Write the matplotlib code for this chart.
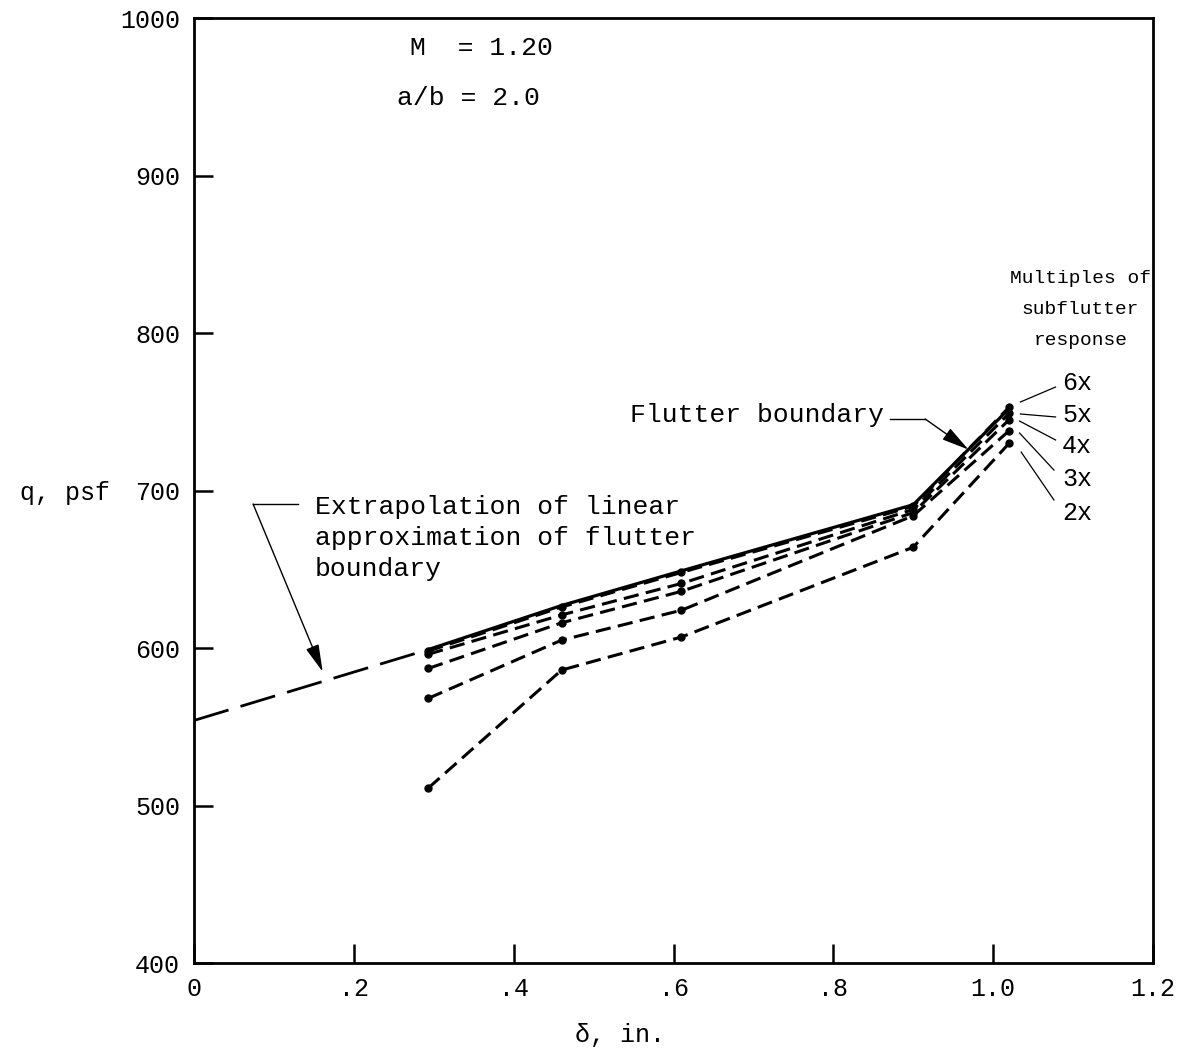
import numpy as np
import matplotlib
matplotlib.use("Agg")
import matplotlib.pyplot as plt

plt.rcParams['font.family'] = ['Liberation Mono', 'DejaVu Sans Mono']

# deflection, in. and dynamic pressure, psf
delta = [0.293, 0.46, 0.61, 0.90, 1.02]
q_2x = [511, 586, 607, 664, 730]
q_3x = [568, 605, 624, 684, 738]
q_4x = [587, 616, 636, 686, 745]
q_5x = [596, 621, 641, 688, 749]
q_6x = [598, 626, 648, 690, 753]
q_boundary = [599, 627, 649, 691, 752]

# linear approximation extended back to zero deflection
delta_extrap = [0.0, 0.293]
q_extrap = [554, 599]

multiples = ["6x", "5x", "4x", "3x", "2x"]
series = [q_6x, q_5x, q_4x, q_3x, q_2x]

xticks = [0, 0.2, 0.4, 0.6, 0.8, 1.0, 1.2]
xticklabels = ["0", ".2", ".4", ".6", ".8", "1.0", "1.2"]
yticks = [400, 500, 600, 700, 800, 900, 1000]

fig = plt.figure(figsize=(11.82, 10.55), dpi=100)
ax = fig.add_axes([0.1641, 0.0872, 0.8114, 0.8957])

ax.plot(delta, q_boundary, color="black", lw=2.3, solid_capstyle="round")
for q in series:
    ax.plot(delta, q, color="black", lw=2.2, dashes=(5, 2.4),
            marker="o", markersize=5)
ax.plot(delta_extrap, q_extrap, color="black", lw=2.0, dashes=(13, 4.5))

ax.set_xlim(0, 1.2)
ax.set_ylim(400, 1000)
ax.set_xticks(xticks)
ax.set_xticklabels(xticklabels)
ax.set_yticks(yticks)
ax.tick_params(direction="in", length=14, width=1.8, labelsize=18, pad=10,
               top=False, right=False)
for side in ax.spines.values():
    side.set_linewidth(2.0)

ax.set_ylabel("q, psf", rotation=0, fontsize=18, ha="center", va="center")
ax.yaxis.set_label_coords(-0.1345, 0.497)
ax.set_xlabel("δ, in.", fontsize=18, ha="center", va="center")
ax.xaxis.set_label_coords(0.444, -0.076)

ax.text(0.270, 981, "M  = 1.20", fontsize=19, va="center", ha="left")
ax.text(0.254, 949, "a/b = 2.0", fontsize=19, va="center", ha="left")

# flutter boundary callout
ax.text(0.546, 748, "Flutter boundary", fontsize=19, va="center", ha="left")
ax.plot([0.871, 0.915], [745.4, 745.4], color="black", lw=1.0)
ax.annotate("", xy=(0.969, 726), xytext=(0.915, 745.4),
            arrowprops=dict(arrowstyle="-|>,head_length=1.2,head_width=0.3",
                            color="black", lw=1.0, mutation_scale=14,
                            shrinkA=0, shrinkB=0))

# extrapolation callout
ax.text(0.151, 670, "Extrapolation of linear\napproximation of flutter\nboundary",
        fontsize=19, va="center", ha="left", linespacing=1.36)
ax.plot([0.130, 0.074], [691.4, 691.4], color="black", lw=1.0)
ax.annotate("", xy=(0.161, 585), xytext=(0.074, 691.4),
            arrowprops=dict(arrowstyle="-|>,head_length=1.2,head_width=0.3",
                            color="black", lw=1.0, mutation_scale=14,
                            shrinkA=0, shrinkB=0))

# multiples of subflutter response
ax.text(1.109, 815, "Multiples of\nsubflutter\nresponse", fontsize=14,
        va="center", ha="center", multialignment="center", linespacing=2.1)
label_y = [768, 748, 728, 707, 686]
leaders = [((1.034, 756.2), (1.078, 765.7)),
           ((1.034, 748.6), (1.078, 746.7)),
           ((1.033, 744.1), (1.078, 732.1)),
           ((1.033, 736.5), (1.076, 713.0)),
           ((1.035, 724.4), (1.076, 694.0))]
for name, y, (p0, p1) in zip(multiples, label_y, leaders):
    ax.text(1.086, y, name, fontsize=18, va="center", ha="left")
    ax.plot([p0[0], p1[0]], [p0[1], p1[1]], color="black", lw=0.9,
            clip_on=False)

fig.savefig("out.png", dpi=100)
